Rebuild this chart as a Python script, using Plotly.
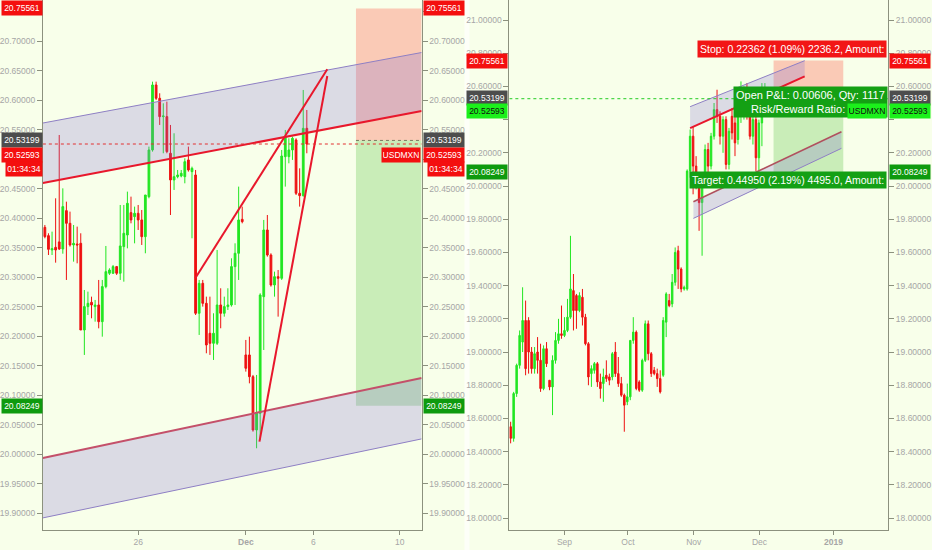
import plotly.graph_objects as go

# ---------------- Left panel : USDMXN 4H ----------------
l_open = [20.3847, 20.3706, 20.3463, 20.3508, 20.3600, 20.3480, 20.4130, 20.3915, 20.3548, 20.3565,
          20.3576, 20.2107, 20.2503, 20.2576, 20.2503, 20.2531, 20.2248, 20.2842, 20.3068, 20.3068,
          20.3181, 20.3068, 20.3520, 20.3717, 20.4096, 20.4028, 20.4085, 20.3972, 20.3689, 20.4367,
          20.5158, 20.6260, 20.6034, 20.5723, 20.5723, 20.5102, 20.4650, 20.4706, 20.4717, 20.4706,
          20.4989, 20.4791, 20.4734, 20.2390, 20.2898, 20.2559, 20.2051, 20.1881, 20.1881, 20.2531,
          20.2390, 20.2503, 20.2531, 20.3181, 20.3407, 20.3983, 20.1684, 20.1684, 20.1316, 20.0412,
          20.0695, 20.2672, 20.3802, 20.3378, 20.2870, 20.3011, 20.2983, 20.5045, 20.5045, 20.5158,
          20.5328, 20.4424, 20.4384, 20.5525]
l_high = [20.3887, 20.3746, 20.3774, 20.4339, 20.5412, 20.4508, 20.4282, 20.4113, 20.3887, 20.3859,
          20.3746, 20.2785, 20.2757, 20.2672, 20.2616, 20.2955, 20.2955, 20.3531, 20.3153, 20.3209,
          20.3192, 20.4226, 20.4226, 20.4452, 20.4367, 20.4198, 20.4226, 20.4141, 20.4395, 20.5215,
          20.6316, 20.6316, 20.6119, 20.5949, 20.5977, 20.5582, 20.5441, 20.4819, 20.4819, 20.5017,
          20.5215, 20.4876, 20.4819, 20.2955, 20.2955, 20.2672, 20.2672, 20.2390, 20.3463, 20.2814,
          20.2672, 20.2814, 20.3322, 20.3576, 20.4537, 20.4198, 20.1938, 20.1994, 20.1345, 20.1345,
          20.2729, 20.3972, 20.4056, 20.3407, 20.3096, 20.3124, 20.5158, 20.5497, 20.5356, 20.5384,
          20.5356, 20.4847, 20.6175, 20.5836]
l_low = [20.3661, 20.3378, 20.3378, 20.3248, 20.3463, 20.3400, 20.2955, 20.3520, 20.3265, 20.3237,
         20.2107, 20.1684, 20.2361, 20.2305, 20.2248, 20.2135, 20.1994, 20.2813, 20.3040, 20.3056,
         20.3040, 20.2955, 20.2926, 20.3491, 20.3915, 20.3576, 20.3802, 20.3548, 20.3407, 20.4339,
         20.5130, 20.6006, 20.5582, 20.5102, 20.5102, 20.4056, 20.4480, 20.4678, 20.4695, 20.4593,
         20.4791, 20.3661, 20.2361, 20.2023, 20.2503, 20.1712, 20.1684, 20.1599, 20.1853, 20.2136,
         20.2333, 20.2446, 20.2503, 20.2531, 20.2955, 20.3915, 20.1401, 20.1203, 20.0384, 20.0102,
         20.0243, 20.1768, 20.3350, 20.2842, 20.2672, 20.2333, 20.2955, 20.4537, 20.4932, 20.4989,
         20.4395, 20.4198, 20.4367, 20.5102]
l_close = [20.3689, 20.3474, 20.3486, 20.3463, 20.3480, 20.4198, 20.3915, 20.3548, 20.3576, 20.3548,
           20.2107, 20.2503, 20.2559, 20.2531, 20.2531, 20.2248, 20.2842, 20.3096, 20.3124, 20.3181,
           20.3068, 20.3531, 20.3746, 20.4254, 20.3972, 20.4085, 20.3972, 20.3689, 20.4395, 20.5158,
           20.6260, 20.6034, 20.5723, 20.5734, 20.5130, 20.4650, 20.4706, 20.4734, 20.4763, 20.4960,
           20.4819, 20.4847, 20.2390, 20.2898, 20.2559, 20.1853, 20.1881, 20.2051, 20.2531, 20.2390,
           20.2503, 20.2531, 20.3181, 20.3407, 20.3972, 20.3943, 20.1458, 20.1316, 20.0412, 20.0695,
           20.2700, 20.3802, 20.3378, 20.2870, 20.3011, 20.2983, 20.5056, 20.5384, 20.5158, 20.5356,
           20.4424, 20.4384, 20.5525, 20.52593]
l_tickvals = [26, 56, 74.8, 98.9]
l_ticktext = ["26", "<b>Dec</b>", "6", "10"]
l_xrange = [-0.56, 105.0]
l_yrange = [19.8717, 20.7700]
l_ytickvals = [19.90, 19.95, 20.00, 20.05, 20.10, 20.15, 20.20, 20.25, 20.30, 20.35,
               20.40, 20.45, 20.50, 20.55, 20.60, 20.65, 20.70, 20.75]
# labels hidden behind the price tags are left blank
l_yticktext = ["19.90000", "19.95000", "20.00000", "20.05000", "20.10000", "20.15000", "20.20000",
               "20.25000", "20.30000", "20.35000", "20.40000", "20.45000", "", "20.55000",
               "20.60000", "20.65000", "20.70000", ""]

# channel drawings (bar index, price)
l_chan_x = [-0.56, 105.0]
l_up_top = [20.5615, 20.6810]
l_up_bot = [20.4598, 20.5819]
l_lo_top = [19.9939, 20.1294]
l_lo_bot = [19.8922, 20.0261]
# wedge drawing
l_legA_x = [41.9, 78.7]
l_legA_y = [20.2983, 20.6525]
l_legB_x = [78.7, 59.8]
l_legB_y = [20.6412, 20.0214]
l_pos_x = [86.7, 105.0]

# ---------------- Right panel : USDMXN 1D ----------------
r_open = [18.55, 18.48, 18.75, 18.92, 19.06, 19.19, 19.19, 19.00, 18.90, 19.00,
          18.95, 18.78, 19.02, 18.83, 18.79, 18.95, 19.07, 19.11, 19.10, 19.13,
          19.21, 19.37, 19.34, 19.25, 19.33, 19.21, 19.05, 18.87, 18.89, 18.93,
          18.82, 18.81, 18.86, 18.85, 18.85, 19.00, 18.87, 18.81, 18.74, 18.70,
          18.73, 19.07, 19.12, 18.82, 18.77, 18.95, 19.17, 18.99, 18.89, 18.87,
          18.84, 18.86, 19.18, 19.31, 19.29, 19.42, 19.61, 19.50, 19.38, 19.38,
          20.09, 20.30, 20.12, 20.02, 19.90, 20.07, 20.22, 20.12, 20.30, 20.46,
          20.42, 20.30, 20.40, 20.13, 20.42, 20.38, 20.28, 20.42, 20.45, 20.58,
          20.47, 20.30, 20.40, 20.17, 20.38, 20.50]
r_high = [18.58, 18.76, 18.93, 19.13, 19.39, 19.31, 19.21, 19.03, 19.03, 19.09,
          19.05, 19.04, 19.06, 18.83, 18.98, 19.12, 19.20, 19.28, 19.21, 19.32,
          19.70, 19.47, 19.35, 19.36, 19.38, 19.23, 19.06, 18.92, 18.94, 18.94,
          18.87, 18.90, 18.95, 18.87, 19.00, 19.06, 18.97, 18.85, 18.75, 18.81,
          19.07, 19.21, 19.13, 18.83, 18.96, 19.19, 19.19, 19.00, 18.91, 18.90,
          18.89, 19.21, 19.36, 19.35, 19.47, 19.63, 19.64, 19.51, 19.40, 20.10,
          20.34, 20.36, 20.18, 20.08, 20.08, 20.25, 20.26, 20.32, 20.50, 20.58,
          20.45, 20.42, 20.42, 20.35, 20.47, 20.42, 20.50, 20.63, 20.60, 20.62,
          20.50, 20.45, 20.43, 20.40, 20.62, 20.62]
r_low = [18.45, 18.46, 18.73, 18.90, 19.00, 18.86, 18.87, 18.87, 18.87, 18.87,
         18.76, 18.77, 18.91, 18.77, 18.62, 18.93, 19.05, 19.08, 19.09, 19.12,
         19.20, 19.13, 19.14, 19.24, 19.16, 19.04, 18.80, 18.79, 18.87, 18.79,
         18.72, 18.70, 18.82, 18.80, 18.83, 18.85, 18.79, 18.73, 18.52, 18.68,
         18.71, 19.05, 18.77, 18.76, 18.76, 18.94, 18.95, 18.85, 18.86, 18.79,
         18.75, 18.85, 19.09, 19.27, 19.27, 19.40, 19.38, 19.36, 19.37, 19.37,
         20.05, 19.95, 19.98, 19.73, 19.58, 20.03, 20.08, 20.10, 20.28, 20.38,
         20.25, 20.20, 20.10, 20.10, 20.28, 20.18, 20.25, 20.38, 20.40, 20.40,
         20.28, 20.25, 20.09, 20.01, 20.24, 20.43]
r_close = [18.48, 18.75, 18.92, 19.10, 19.19, 18.90, 19.00, 18.90, 18.99, 18.95,
           18.78, 19.02, 18.93, 18.79, 18.95, 19.07, 19.11, 19.10, 19.13, 19.21,
           19.38, 19.25, 19.25, 19.34, 19.21, 19.05, 18.85, 18.90, 18.93, 18.82,
           18.78, 18.85, 18.84, 18.83, 18.99, 18.87, 18.81, 18.74, 18.68, 18.73,
           19.07, 19.12, 18.78, 18.77, 18.95, 19.17, 18.99, 18.87, 18.87, 18.84,
           18.76, 19.19, 19.35, 19.28, 19.42, 19.60, 19.50, 19.38, 19.39, 20.09,
           20.30, 20.12, 20.02, 19.90, 20.07, 20.22, 20.12, 20.30, 20.46, 20.42,
           20.30, 20.40, 20.13, 20.33, 20.32, 20.26, 20.48, 20.58, 20.58, 20.47,
           20.30, 20.40, 20.17, 20.38, 20.50, 20.52593]
r_tickvals = [18, 39.2, 61.2, 83.2, 107.9]
r_ticktext = ["Sep", "Oct", "Nov", "Dec", "<b>2019</b>"]
r_xrange = [-0.43, 126.2]
r_yrange = [17.928, 21.1205]
r_ytickvals = [18.0, 18.2, 18.4, 18.6, 18.8, 19.0, 19.2, 19.4, 19.6, 19.8,
               20.0, 20.2, 20.4, 20.6, 20.8, 21.0]
r_yticktext = ["18.00000", "18.20000", "18.40000", "18.60000", "18.80000", "19.00000", "19.20000",
               "19.40000", "19.60000", "19.80000", "20.00000", "20.20000", "", "20.60000",
               "20.80000", "21.00000"]

r_up_x = [60.0, 98.3]
r_up_top = [20.478, 20.755]
r_up_bot = [20.349, 20.660]
r_lo_x = [61.1, 110.6]
r_lo_top = [19.905, 20.327]
r_lo_bot = [19.805, 20.227]
r_pos_x = [87.9, 111.2]

# position tool
entry = 20.53199
stop = 20.75561
target = 20.08249
last = 20.52593

BG = "#F8FFEA"
AX = "#8C917E"
TICK = "#A6A6A6"
UP = "#22E622"
DN = "#EE1111"
LAV = "rgba(130,110,210,0.25)"
LAVLINE = "#8E7FC4"
RED = "#E8182C"
FONT = "Liberation Sans, Arial, sans-serif"

fig = go.Figure()


def candles(o, h, l, c, xa, ya):
    fig.add_trace(go.Candlestick(
        x=list(range(len(o))), open=o, high=h, low=l, close=c,
        xaxis=xa, yaxis=ya, line=dict(width=1), whiskerwidth=0,
        increasing=dict(line=dict(color=UP, width=1), fillcolor=UP),
        decreasing=dict(line=dict(color=DN, width=1), fillcolor=DN),
        hoverinfo="skip", showlegend=False))


def band(xs, top, bot, xa, ya, redcolor, redwidth, red_on_top):
    fig.add_trace(go.Scatter(x=[xs[0], xs[1], xs[1], xs[0], xs[0]],
                             y=[top[0], top[1], bot[1], bot[0], top[0]],
                             fill="toself", fillcolor=LAV, mode="lines",
                             line=dict(width=0), xaxis=xa, yaxis=ya,
                             hoverinfo="skip", showlegend=False))
    red_y, lav_y = (top, bot) if red_on_top else (bot, top)
    fig.add_trace(go.Scatter(x=xs, y=lav_y, mode="lines", line=dict(color=LAVLINE, width=1),
                             xaxis=xa, yaxis=ya, hoverinfo="skip", showlegend=False))
    fig.add_trace(go.Scatter(x=xs, y=red_y, mode="lines", line=dict(color=redcolor, width=redwidth),
                             xaxis=xa, yaxis=ya, hoverinfo="skip", showlegend=False))


# position boxes (drawn first, under everything)
shapes = []
for xs, xr, yr in [(l_pos_x, "x", "y"), (r_pos_x, "x2", "y2")]:
    shapes.append(dict(type="rect", xref=xr, yref=yr, x0=xs[0], x1=xs[1], y0=entry, y1=stop,
                       fillcolor="rgba(255,95,75,0.33)", line=dict(width=0), layer="below"))
    shapes.append(dict(type="rect", xref=xr, yref=yr, x0=xs[0], x1=xs[1], y0=target, y1=entry,
                       fillcolor="rgba(80,190,55,0.28)", line=dict(width=0), layer="below"))
    shapes.append(dict(type="line", xref=xr, yref=yr, x0=xs[0], x1=xs[1], y0=entry, y1=entry,
                       line=dict(color="#7A7A60", width=1, dash="dot")))
shapes.append(dict(type="line", xref="x", yref="y", x0=l_xrange[0], x1=l_xrange[1], y0=last, y1=last,
                   line=dict(color="#E23030", width=1, dash="dot")))
shapes.append(dict(type="line", xref="x2", yref="y2", x0=r_xrange[0], x1=r_xrange[1], y0=last, y1=last,
                   line=dict(color="#22CC22", width=1, dash="dot")))
# thin lighter gutter between the two panes
shapes.append(dict(type="rect", xref="paper", yref="paper", x0=465 / 932, x1=470 / 932, y0=0, y1=1,
                   fillcolor="#FDFFF8", line=dict(width=0), layer="below"))

candles(l_open, l_high, l_low, l_close, "x", "y")
candles(r_open, r_high, r_low, r_close, "x2", "y2")

band(l_chan_x, l_up_top, l_up_bot, "x", "y", RED, 2, False)
band(l_chan_x, l_lo_top, l_lo_bot, "x", "y", "#C4506A", 2, True)
band(r_up_x, r_up_top, r_up_bot, "x2", "y2", RED, 2, False)
band(r_lo_x, r_lo_top, r_lo_bot, "x2", "y2", "#B0505E", 1.5, True)

for lx, ly in [(l_legA_x, l_legA_y), (l_legB_x, l_legB_y)]:
    fig.add_trace(go.Scatter(x=lx, y=ly, mode="lines", line=dict(color=RED, width=2),
                             xaxis="x", yaxis="y", hoverinfo="skip", showlegend=False))

# ---------------- price labels ----------------
ann = []


def label(text, px, yref, y, bg, fg="white", anchor="right", shift=0, w=38):
    ann.append(dict(text=text, x=px / 932, xref="paper", y=y, yref=yref, yshift=shift,
                    xanchor=anchor, yanchor="middle", showarrow=False, bgcolor=bg,
                    width=w, height=12, borderpad=1,
                    font=dict(family=FONT, size=8.5, color=fg)))


GREEN = "#0E9A0E"
GRAY = "#4D4D4D"
LIME = "#1BF01B"
for px, anc in [(42, "right"), (423, "left")]:
    label("20.75561", px, "y", stop, "#F40F0F", anchor=anc)
    label("20.53199", px, "y", entry, GRAY, anchor=anc)
    label("20.52593", px, "y", last, "#F40F0F", anchor=anc, shift=-11)
    label("01:34:34", px + (0 if anc == "right" else 4), "y", last, "#F40F0F", anchor=anc, shift=-25,
          w=34)
    label("20.08249", px, "y", target, GREEN, anchor=anc)
label("USDMXN", 421, "y", last, "#F40F0F", anchor="right", shift=-11, w=36)

for px, anc in [(509, "right"), (891, "left")]:
    label("20.75561", px, "y2", stop, "#F40F0F", anchor=anc)
    label("20.53199", px, "y2", entry, GRAY, anchor=anc)
    label("20.08249", px, "y2", target, GREEN, anchor=anc)

# position tool texts (right pane)
ann.append(dict(text="Stop: 0.22362 (1.09%) 2236.2, Amount:", x=889 / 932, xref="paper", y=stop,
                yref="y2", yshift=12, xanchor="right", yanchor="middle", showarrow=False,
                bgcolor="#F21616", borderpad=2, font=dict(family=FONT, size=10.5, color="white")))
ann.append(dict(text="Open P&L: 0.00606, Qty: 1117<br>Risk/Reward Ratio: 2.01", x=812 / 932,
                xref="paper", y=entry, yref="y2", yshift=-4, xanchor="center", yanchor="middle",
                showarrow=False, bgcolor="#14A014", borderpad=2, align="center",
                font=dict(family=FONT, size=11, color="white")))
ann.append(dict(text="Target: 0.44950 (2.19%) 4495.0, Amount:", x=889 / 932, xref="paper", y=target,
                yref="y2", yshift=-8, xanchor="right", yanchor="middle", showarrow=False,
                bgcolor="#14A014", borderpad=2, font=dict(family=FONT, size=10.5, color="white")))
for px, anc in [(509, "right"), (891, "left")]:
    label("20.52593", px, "y2", last, LIME, fg="#101010", anchor=anc, shift=-12)
label("USDMXN", 889, "y2", last, LIME, fg="#101010", anchor="right", shift=-12, w=36)

# ---------------- axes ----------------
ydom = [20 / 550, 1.0]
common_y = dict(showgrid=False, zeroline=False, showline=True, linecolor=AX, linewidth=1,
                ticks="outside", ticklen=5, tickcolor=AX,
                tickfont=dict(family=FONT, size=8.5, color=TICK), fixedrange=True)
common_x = dict(showgrid=False, zeroline=False, showline=True, linecolor=AX, linewidth=1,
                ticks="outside", ticklen=4, tickcolor=AX, rangeslider=dict(visible=False),
                tickfont=dict(family=FONT, size=8.5, color=TICK), fixedrange=True)

fig.update_layout(
    width=932, height=550, margin=dict(l=0, r=0, t=0, b=0),
    paper_bgcolor=BG, plot_bgcolor=BG, showlegend=False, boxgap=0.3,
    xaxis=dict(domain=[42 / 932, 422 / 932], range=l_xrange, anchor="y",
               tickvals=l_tickvals, ticktext=l_ticktext, **common_x),
    yaxis=dict(domain=ydom, range=l_yrange, anchor="x", side="left",
               tickvals=l_ytickvals, ticktext=l_yticktext, **common_y),
    yaxis3=dict(domain=ydom, range=l_yrange, anchor="x", overlaying="y", side="right",
                tickvals=l_ytickvals, ticktext=l_yticktext, **common_y),
    xaxis2=dict(domain=[510 / 932, 890 / 932], range=r_xrange, anchor="y2",
                tickvals=r_tickvals, ticktext=r_ticktext, **common_x),
    yaxis2=dict(domain=ydom, range=r_yrange, anchor="x2", side="left",
                tickvals=r_ytickvals, ticktext=r_yticktext, **common_y),
    yaxis4=dict(domain=ydom, range=r_yrange, anchor="x2", overlaying="y2", side="right",
                tickvals=r_ytickvals, ticktext=r_yticktext, **common_y),
    shapes=shapes, annotations=ann,
)
# dummy traces so the right-side overlay axes are drawn
fig.add_trace(go.Scatter(x=[None], y=[None], xaxis="x", yaxis="y3", showlegend=False))
fig.add_trace(go.Scatter(x=[None], y=[None], xaxis="x2", yaxis="y4", showlegend=False))

fig.write_html("out.html", config={"displayModeBar": False},
               post_script="document.body.style.margin='0px';document.body.style.background='%s';" % BG)
